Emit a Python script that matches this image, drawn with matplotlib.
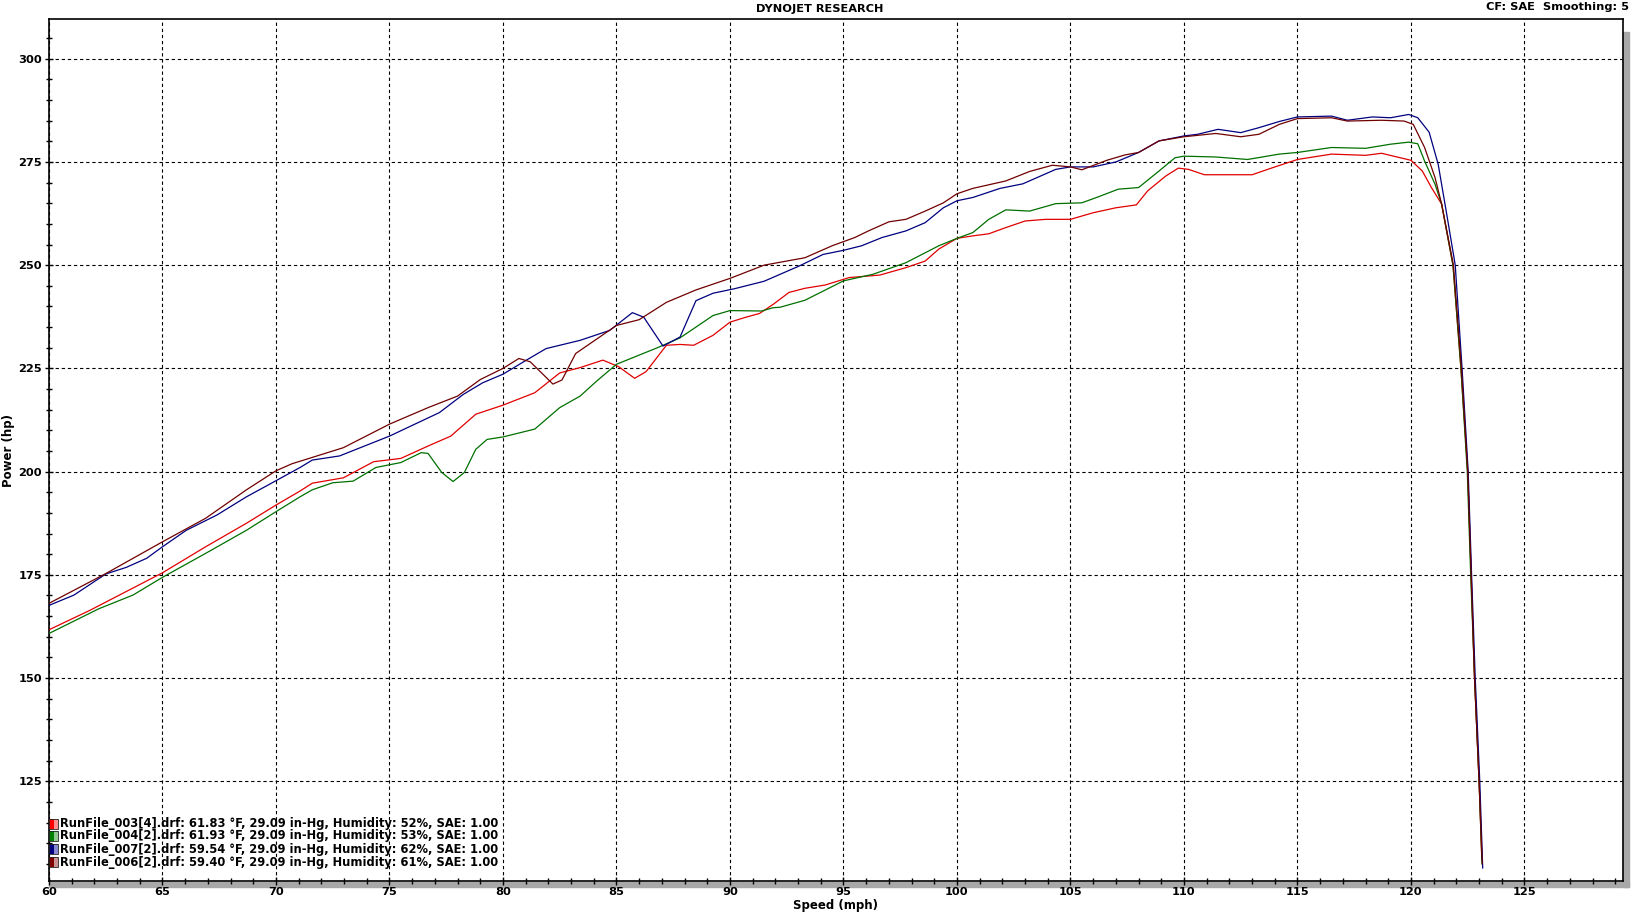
import matplotlib
matplotlib.use('Agg')
import matplotlib.pyplot as plt
from matplotlib.patches import Rectangle
from matplotlib.ticker import MultipleLocator

plt.rcParams['font.family'] = ['DejaVu Sans']
plt.rcParams['font.weight'] = 'bold'

# RunFile_003[4] (red)
mph_003 = [60, 61.8, 63.1, 65, 66.9, 68.7, 70, 71.06, 71.6, 72.97, 74.3, 75.5, 76.7, 77.7,
           78.8, 80, 81.4, 82.5, 83.4, 84.4, 85.1, 85.8, 86.3, 87.2, 87.8, 88.4, 89.25, 90,
           90.7, 91.3, 91.9, 92.6, 93.3, 94.2, 95.25, 96.6, 97.75, 98.6, 99.2, 100, 100.7,
           101.4, 102.15, 103.0, 103.9, 105, 106, 107.0, 107.9, 108.4, 109.2, 109.75, 110.2,
           110.9, 113.0, 113.9, 115, 116.5, 118.0, 118.7, 120, 120.5, 120.9, 121.35,
           121.85, 122.2, 122.5, 122.65, 122.8, 123.0, 123.12]
hp_003 = [161.7, 166.4, 170.1, 175.5, 181.8, 187.5, 191.9, 195.3, 197.2, 198.5, 202.4, 203.2,
          206.2, 208.6, 213.9, 216.1, 219.1, 223.9, 225.2, 227.0, 225.4, 222.6, 224.2, 230.6,
          230.8, 230.6, 233.0, 236.2, 237.4, 238.3, 240.5, 243.4, 244.4, 245.2, 247.0, 247.6,
          249.4, 251.0, 253.9, 256.5, 257.1, 257.6, 259.1, 260.7, 261.1, 261.1, 262.7, 263.9,
          264.6, 268.0, 271.6, 273.5, 273.2, 271.9, 271.9, 273.6, 275.6, 276.9, 276.6, 277.1,
          275.4, 272.8, 268.8, 264.8, 250, 225, 200, 175, 150, 125, 106]

# RunFile_004[2] (green)
mph_004 = [60, 62.2, 63.7, 65, 66.9, 68.7, 70, 71.06, 71.6, 72.5, 73.4, 74.4, 75.5, 76.4,
           76.7, 77.3, 77.8, 78.3, 78.8, 79.3, 80, 81.4, 82.5, 83.4, 84.1, 85, 85.9, 86.8,
           87.8, 88.5, 89.25, 90, 91.4, 91.9, 92.2, 93.3, 95, 96.3, 97.75, 99.2, 100, 100.7,
           101.4, 102.15, 103.2, 104.35, 105.5, 106.25, 107.1, 108.0, 108.9, 109.6, 110,
           111.4, 112.8, 114.2, 115, 116.5, 118.0, 119.1, 119.9, 120.3, 120.6, 121.06, 121.35,
           121.85, 122.2, 122.48, 122.63, 122.8, 123.0, 123.13]
hp_004 = [160.8, 166.8, 170.1, 174.4, 180.2, 185.8, 190.3, 193.9, 195.6, 197.3, 197.7, 201.0,
          202.2, 204.6, 204.4, 199.8, 197.6, 199.8, 205.4, 207.8, 208.4, 210.3, 215.5, 218.3,
          221.8, 226.0, 228.0, 230.0, 232.4, 235.0, 237.8, 239.0, 238.9, 239.7, 239.8, 241.5,
          246.2, 247.8, 250.6, 254.7, 256.5, 257.9, 261.1, 263.4, 263.1, 264.9, 265.1, 266.6,
          268.4, 268.8, 272.8, 276.0, 276.4, 276.2, 275.6, 276.9, 277.3, 278.5, 278.3, 279.3,
          279.8, 279.4, 275.2, 269.6, 264.8, 250, 225, 200, 175, 150, 125, 105]

# RunFile_007[2] (blue)
mph_007 = [60, 61.1, 62.5, 63.4, 64.3, 65, 66.05, 67.4, 68.7, 70, 71.06, 71.6, 72.8, 75,
           77.2, 78.25, 79.1, 80, 81.03, 81.9, 83.4, 84.7, 85.7, 86.2, 87.05, 87.8, 88.5,
           89.25, 90.2, 91.5, 93.05, 94.1, 95, 95.8, 96.7, 97.75, 98.6, 99.4, 100, 100.7,
           101.9, 102.9, 104.35, 105, 106.0, 107.0, 108.0, 108.9, 110, 110.6, 111.5, 112.5,
           113.3, 114.2, 115, 116.5, 117.2, 118.3, 119.1, 119.9, 120.3, 120.8, 121.2, 121.6,
           121.95, 122.25, 122.52, 122.67, 122.83, 123.03, 123.16]
hp_007 = [167.6, 170.1, 175.2, 176.8, 179.0, 181.8, 185.8, 189.5, 193.9, 197.8, 201.0, 202.8,
          203.8, 208.6, 214.3, 218.7, 221.5, 223.6, 227.0, 229.8, 231.8, 234.2, 238.5, 237.4,
          230.4, 232.6, 241.4, 243.2, 244.3, 246.1, 249.8, 252.6, 253.6, 254.7, 256.7, 258.3,
          260.3, 263.9, 265.6, 266.4, 268.6, 269.7, 273.2, 273.8, 273.8, 275.0, 277.3, 280.1,
          281.3, 281.7, 282.9, 282.1, 283.3, 284.8, 285.9, 286.1, 285.1, 285.9, 285.7, 286.5,
          285.7, 282.2, 274.4, 261.5, 250, 225, 200, 175, 150, 125, 104]

# RunFile_006[2] (maroon)
mph_006 = [60, 62.5, 65, 66.9, 68.7, 70, 70.7, 72.97, 75, 76.7, 78, 79.0, 80, 80.7, 81.2,
           82.2, 82.6, 83.2, 84.1, 85, 86.0, 87.2, 88.5, 90, 91.5, 93.3, 94.5, 95.5, 96.1,
           97.0, 97.75, 98.6, 99.4, 100, 100.7, 102.15, 103.2, 104.2, 105, 105.5, 106.6,
           107.4, 108.0, 108.9, 110, 111.4, 112.5, 113.3, 114.2, 115, 116.5, 117.2, 118.7,
           119.7, 120.1, 120.6, 121.06, 121.35, 121.87, 122.22, 122.5, 122.65, 122.8, 123.0,
           123.14]
hp_006 = [168.1, 175.3, 183.0, 188.7, 195.6, 200.2, 201.9, 205.8, 211.5, 215.5, 218.3, 222.3,
          225.0, 227.4, 226.6, 221.2, 222.2, 228.6, 232.0, 235.4, 236.8, 241.0, 244.0, 246.8,
          250.0, 251.8, 254.7, 256.7, 258.3, 260.5, 261.1, 263.1, 265.1, 267.3, 268.6, 270.4,
          272.7, 274.2, 273.8, 273.1, 275.4, 276.7, 277.3, 280.1, 281.1, 281.9, 281.1, 281.7,
          284.1, 285.5, 285.7, 284.9, 285.1, 284.9, 284.1, 278.5, 271.2, 264.8, 250, 225, 200,
          175, 150, 125, 105]

legend_labels = [
    "RunFile_003[4].drf: 61.83 \u00b0F, 29.09 in-Hg, Humidity: 52%, SAE: 1.00",
    "RunFile_004[2].drf: 61.93 \u00b0F, 29.09 in-Hg, Humidity: 53%, SAE: 1.00",
    "RunFile_007[2].drf: 59.54 \u00b0F, 29.09 in-Hg, Humidity: 62%, SAE: 1.00",
    "RunFile_006[2].drf: 59.40 \u00b0F, 29.09 in-Hg, Humidity: 61%, SAE: 1.00",
]
line_colors = ['#e00000', '#007000', '#000080', '#700000']
box_dark = ['#ff0000', '#008000', '#000080', '#800000']
box_light = ['#ff9090', '#90c890', '#8888d0', '#c89090']

W, H = 1640, 913
fig = plt.figure(figsize=(W / 100, H / 100), dpi=100)
ax = fig.add_axes([49 / W, 1 - 881 / H, (1623 - 49) / W, (881 - 19.5) / H])

series = [(mph_003, hp_003), (mph_004, hp_004), (mph_007, hp_007), (mph_006, hp_006)]
for (x, y), c in zip(series, line_colors):
    ax.plot(x, y, color=c, lw=0.9, zorder=3)

ax.set_xlim(60, 129.34)
ax.set_ylim(100.85, 309.5)
ax.xaxis.set_minor_locator(MultipleLocator(1))
ax.yaxis.set_minor_locator(MultipleLocator(5))
ax.set_xticks([60, 65, 70, 75, 80, 85, 90, 95, 100, 105, 110, 115, 120, 125])
ax.set_yticks([125, 150, 175, 200, 225, 250, 275, 300])
ax.tick_params(which='both', direction='inout', width=1, colors='black', labelsize=8.2)
ax.tick_params(which='major', length=6)
ax.tick_params(which='minor', length=5)
ax.tick_params(axis='x', pad=1)
ax.tick_params(axis='y', pad=2)
for lab in ax.get_xticklabels() + ax.get_yticklabels():
    lab.set_fontweight('bold')

ax.grid(True, which='major', color='black', linestyle=(0, (3, 2.5)), lw=0.8)
for s in ax.spines.values():
    s.set_linewidth(1.2)

# drop shadow on the right and bottom of the frame
ax.add_patch(Rectangle((1.0, -6 / 861), 6 / 1574, 1 - 6 / 861, transform=ax.transAxes,
                       color='#a8a8a8', clip_on=False, zorder=0))
ax.add_patch(Rectangle((0.0, -6 / 861), 1 + 6 / 1574, 5 / 861, transform=ax.transAxes,
                       color='#a8a8a8', clip_on=False, zorder=0))

ax.set_xlabel('Speed (mph)', fontsize=8.5, fontweight='bold', labelpad=2)
fig.text(9 / W, 1 - 450 / H, 'Power (hp)', rotation=90, ha='center', va='center',
         fontsize=8.5, fontweight='bold')

fig.text(820 / W, 1 - 9.5 / H, 'DYNOJET RESEARCH', ha='center', va='center',
         fontsize=8.2, fontweight='bold')
fig.text(1629 / W, 1 - 7 / H, 'CF: SAE  Smoothing: 5', ha='right', va='center',
         fontsize=8.2, fontweight='bold')

# legend rows
row_y = [823.5, 836, 849, 862]
for lab, yy, cd, cl in zip(legend_labels, row_y, box_dark, box_light):
    fig.patches.append(Rectangle((49 / W, 1 - (yy + 5) / H), 5 / W, 10 / H,
                                 transform=fig.transFigure, facecolor=cd, edgecolor='none'))
    fig.patches.append(Rectangle((54 / W, 1 - (yy + 5) / H), 4 / W, 10 / H,
                                 transform=fig.transFigure, facecolor=cl, edgecolor='none'))
    fig.patches.append(Rectangle((49 / W, 1 - (yy + 5) / H), 9 / W, 10 / H,
                                 transform=fig.transFigure, facecolor='none',
                                 edgecolor='#202020', lw=0.6))
    fig.text(60 / W, 1 - yy / H, lab, ha='left', va='center', fontsize=8.3,
             fontweight='bold', zorder=5)

fig.savefig('out.png', dpi=100)
